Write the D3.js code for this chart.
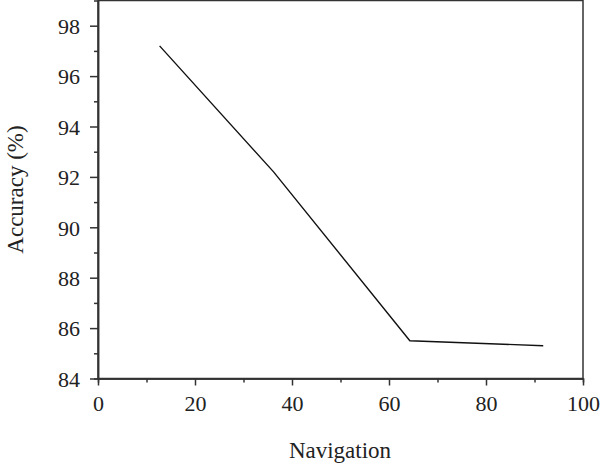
<!DOCTYPE html>
<html><head><meta charset="utf-8">
<script src="https://cdn.jsdelivr.net/npm/d3@7"></script>
<style>body{margin:0;background:#fff}</style>
</head><body><svg id="c" width="600" height="468"></svg>
<script>
const navigation = [12.7, 36.2, 64.3, 91.8];
const accuracy = [97.2, 92.2, 85.5, 85.3];
const xTicks = [0, 20, 40, 60, 80, 100];
const yTicks = [84, 86, 88, 90, 92, 94, 96, 98];
const xMinor = [10, 30, 50, 70, 90];
const yMinor = [85, 87, 89, 91, 93, 95, 97];

const svg = d3.select('#c');
const m = {l: 98, r: 583, t: 0.5, b: 378.5};
const x = d3.scaleLinear().domain([0, 100]).range([m.l, m.r]);
const y = d3.scaleLinear().domain([84, 99]).range([m.b, m.t]);
const font = 'Liberation Serif, Times New Roman, serif';
const axC = '#333';

// frame
svg.append('rect').attr('x', m.l).attr('y', m.t).attr('width', m.r - m.l).attr('height', m.b - m.t)
  .attr('fill', 'none').attr('stroke', axC).attr('stroke-width', 1.5);

const xa = svg.append('g').attr('transform', `translate(0,${m.b})`)
  .call(d3.axisBottom(x).tickValues(xTicks).tickSize(7).tickPadding(10).tickSizeOuter(0));
const xm = svg.append('g').attr('transform', `translate(0,${m.b})`)
  .call(d3.axisBottom(x).tickValues(xMinor).tickSize(4).tickFormat(''));
const ya = svg.append('g').attr('transform', `translate(${m.l},0)`)
  .call(d3.axisLeft(y).tickValues(yTicks).tickSize(8).tickPadding(10).tickSizeOuter(0));
const ym = svg.append('g').attr('transform', `translate(${m.l},0)`)
  .call(d3.axisLeft(y).tickValues(yMinor).tickSize(4).tickFormat(''));
[xa, xm, ya, ym].forEach(g => {
  g.select('.domain').attr('stroke', axC).attr('stroke-width', 1.5);
  g.selectAll('.tick line').attr('stroke', axC).attr('stroke-width', 1.5);
  g.selectAll('.tick text').attr('font-family', font).attr('font-size', 22).attr('fill', '#222');
});
ya.selectAll('.tick text').attr('dy', '0.35em');

svg.append('path').datum(navigation.map((v, i) => [v, accuracy[i]]))
  .attr('d', d3.line().x(d => x(d[0])).y(d => y(d[1])))
  .attr('fill', 'none').attr('stroke', '#111').attr('stroke-width', 1.4);

svg.append('text').attr('x', 340).attr('y', 458).attr('text-anchor', 'middle')
  .attr('font-family', font).attr('font-size', 23).attr('fill', '#222').text('Navigation');
svg.append('text').attr('transform', `translate(23,${(m.t + m.b) / 2}) rotate(-90)`)
  .attr('text-anchor', 'middle').attr('font-family', font).attr('font-size', 23).attr('fill', '#222')
  .text('Accuracy (%)');
</script></body></html>
